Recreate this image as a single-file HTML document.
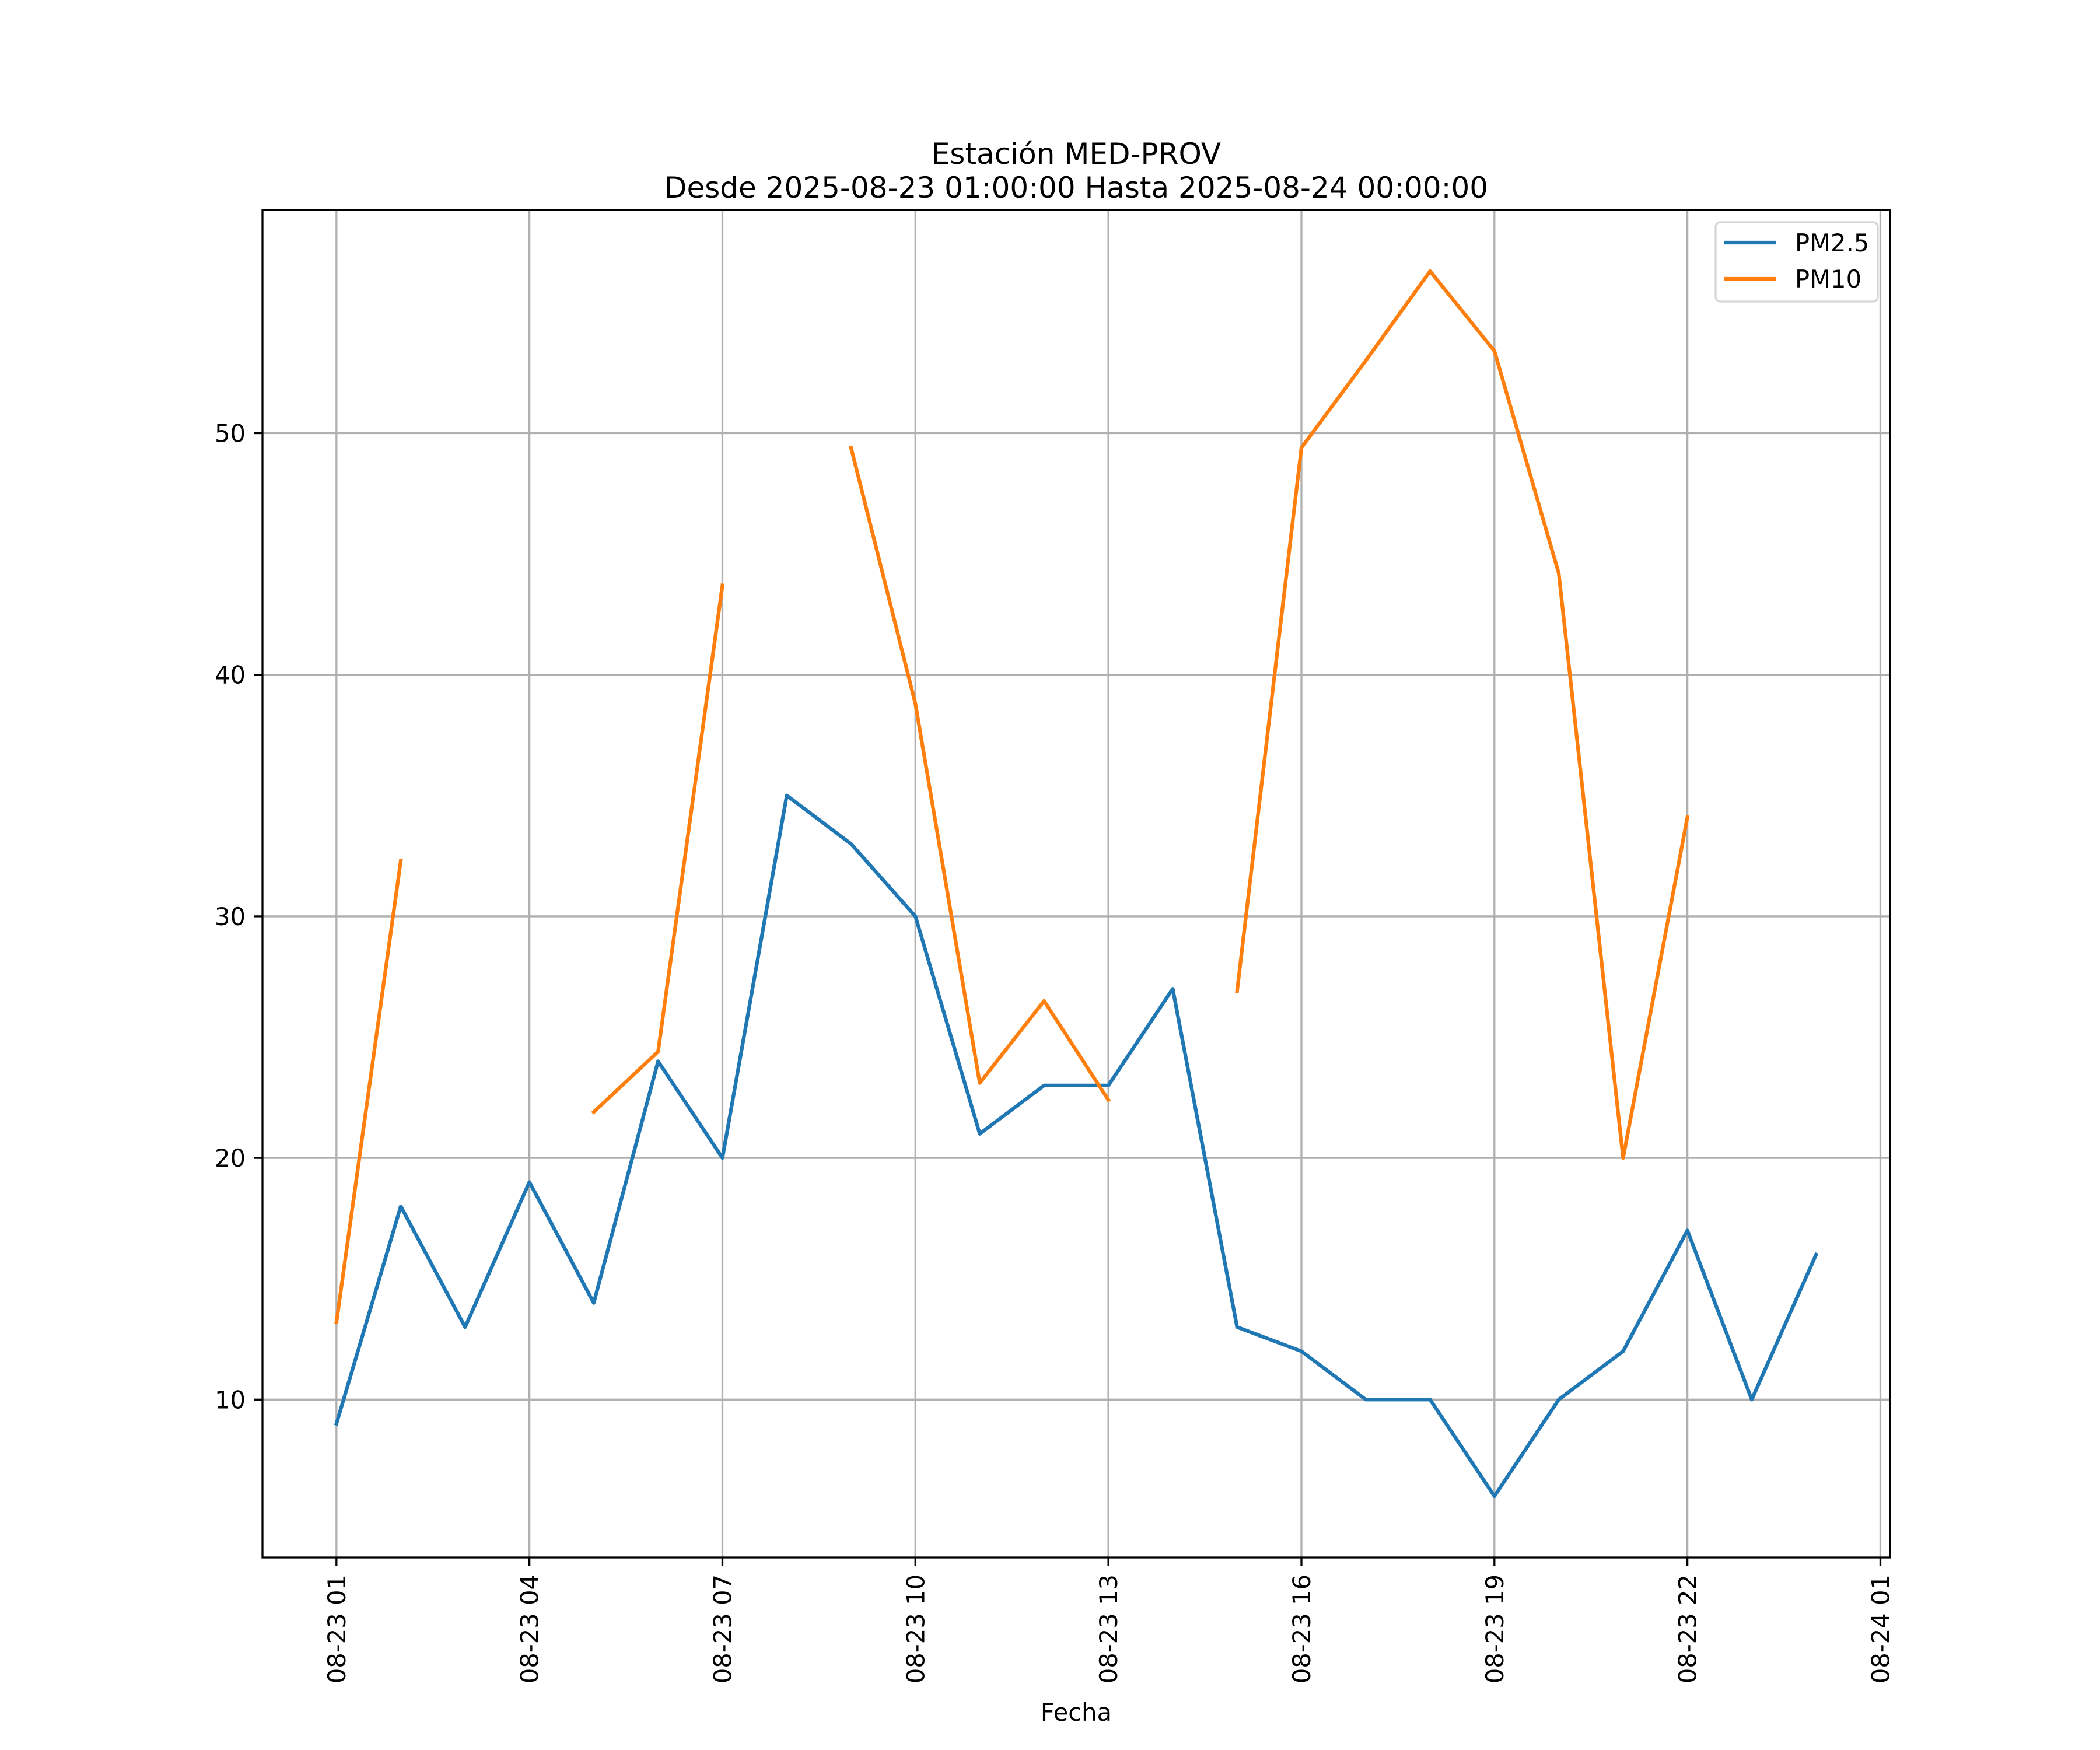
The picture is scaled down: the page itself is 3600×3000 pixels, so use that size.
<!DOCTYPE html>
<html><head><meta charset="utf-8"><style>
html,body{margin:0;padding:0;background:#fff;}
svg{display:block;font-family:"DejaVu Sans","Liberation Sans",sans-serif;}
</style></head><body>
<svg id="chart" width="3600" height="3000" viewBox="0 0 3600 3000" xmlns="http://www.w3.org/2000/svg">
<rect width="3600" height="3000" fill="#fff"/>
<text x="1845" y="281" font-size="50" text-anchor="middle">Estación MED-PROV</text>
<text x="1845" y="339" font-size="50" text-anchor="middle">Desde 2025-08-23 01:00:00 Hasta 2025-08-24 00:00:00</text>
<g id="grid"></g><g id="series"></g><g id="axes"></g>
<text x="1845" y="2950" font-size="41.67" text-anchor="middle">Fecha</text>
<g>
<rect x="2941" y="381" width="278" height="136" rx="8" fill="#fff" fill-opacity="0.8" stroke="#d6d6d6" stroke-width="3.3"/>
<line x1="2956" y1="416" x2="3045" y2="416" stroke="#1f77b4" stroke-width="6.25"/>
<text x="3077" y="431" font-size="41.67">PM2.5</text>
<line x1="2956" y1="478" x2="3045" y2="478" stroke="#ff7f0e" stroke-width="6.25"/>
<text x="3077" y="493" font-size="41.67">PM10</text>
</g>
</svg>
<script>
const hours = [0,1,2,3,4,5,6,7,8,9,10,11,12,13,14,15,16,17,18,19,20,21,22,23];
const pm25 = [9,18,13,19,14,24,20,35,33,30,21,23,23,27,13,12,10,10,6,10,12,17,10,16];
const pm10 = [13.2,32.3,null,null,21.9,24.4,43.7,null,49.4,38.8,23.1,26.5,22.4,null,26.9,49.4,53.0,56.7,53.4,44.2,20.0,34.1,null,null];
const xTickHours = [0,3,6,9,12,15,18,21,24];
const xTickLabels = ["08-23 01","08-23 04","08-23 07","08-23 10","08-23 13","08-23 16","08-23 19","08-23 22","08-24 01"];
const yTicks = [10,20,30,40,50];

const NS="http://www.w3.org/2000/svg";
const L=450,R=3240,T=360,B=2670;
const xmin0=Math.min(...hours), xmax0=Math.max(...hours);
const xm=(xmax0-xmin0)*0.05, xmin=xmin0-xm, xmax=xmax0+xm;
const allY=pm25.concat(pm10).filter(v=>v!==null);
const ymin0=Math.min(...allY), ymax0=Math.max(...allY);
const ym=(ymax0-ymin0)*0.05, ymin=ymin0-ym, ymax=ymax0+ym;
const X=h=>L+(h-xmin)/(xmax-xmin)*(R-L);
const Y=v=>B-(v-ymin)/(ymax-ymin)*(B-T);
function mk(tag,attrs,parent){const e=document.createElementNS(NS,tag);for(const k in attrs)e.setAttribute(k,attrs[k]);parent.appendChild(e);return e;}
const grid=document.getElementById('grid'), axes=document.getElementById('axes'), series=document.getElementById('series');
xTickHours.forEach((h,i)=>{
  const x=X(h);
  const g=mk('line',{x1:x,y1:T,x2:x,y2:B,stroke:'#b0b0b0','stroke-width':3.3},grid);
  
  
  const t=mk('line',{x1:x,y1:B,x2:x,y2:B+14.6,stroke:'#000','stroke-width':3.3},axes);
  
  
  const lb=mk('text',{x:0,y:0,'font-size':41.67,'text-anchor':'end',transform:`translate(${x+15},${B+29}) rotate(-90)`},axes);
  lb.textContent=xTickLabels[i];
  
  
});
yTicks.forEach(v=>{
  const y=Y(v);
  const g=mk('line',{x1:L,y1:y,x2:R,y2:y,stroke:'#b0b0b0','stroke-width':3.3},grid);
  
  
  const t=mk('line',{x1:L-14.6,y1:y,x2:L,y2:y,stroke:'#000','stroke-width':3.3},axes);
  
  
  const lb=mk('text',{x:L-29,y:y+15,'font-size':41.67,'text-anchor':'end'},axes);
  lb.textContent=String(v);
  
  
});
const frame=mk('rect',{x:L,y:T,width:R-L,height:B-T,fill:'none',stroke:'#000','stroke-width':3.3},axes);


function drawSeries(vals,color,name){
  let d='',pen=false;
  vals.forEach((v,i)=>{
    if(v===null){pen=false;return;}
    d+=(pen?'L':'M')+X(hours[i]).toFixed(1)+' '+Y(v).toFixed(1)+' ';
    pen=true;
  });
  const p=mk('path',{d:d,fill:'none',stroke:color,'stroke-width':6.25,'stroke-linejoin':'round','stroke-linecap':'square'},series);
  
  
}
drawSeries(pm25,'#1f77b4','pm25-line');
drawSeries(pm10,'#ff7f0e','pm10-line');
</script>
</body></html>
